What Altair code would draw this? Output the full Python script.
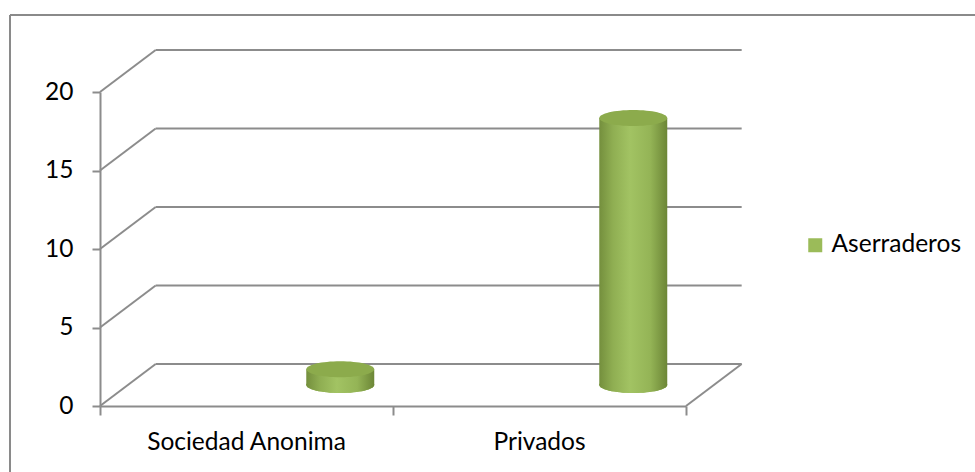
import altair as alt
import pandas as pd

# ---- data -------------------------------------------------------------
categorias = ["Sociedad Anonima", "Privados"]
aserraderos = [1, 17]
serie = "Aserraderos"
ticks_y = [0, 5, 10, 15, 20]
ticks_x = [0, 1, 2]

# ---- 3-D box geometry (data units) ------------------------------------
DX = 0.19      # depth offset along x (category units)
DY = 2.68      # depth offset along y (value units)
SHIFT = 0.32   # cylinder centre offset toward the back
HALF = 0.116   # half cylinder width (category units)

W, H = 586, 314
PAD_L, PAD_T = 100, 92
GRID = "#8c8c8c"
VERDE = "#9BBB59"
TAPA = "#8cab4c"
FONT = "Lato"
FS = 24.5

ELIPSE = "M -1 0 A 1 0.235 0 1 0 1 0 A 1 0.235 0 1 0 -1 0 Z"
ELIPSE_SIZE = 4624

n = len(categorias)

# back wall grid lines and floor edges
seg = []
for t in ticks_y:
    seg.append(dict(x=0, y=t, x2=DX, y2=t + DY))
    seg.append(dict(x=DX, y=t + DY, x2=n + DX, y2=t + DY))
seg.append(dict(x=n, y=0, x2=n + DX, y2=DY))
frame = pd.DataFrame(seg)

df = pd.DataFrame({
    "categoria": categorias,
    "valor": aserraderos,
    "i": list(range(n)),
    "serie": [serie] * n,
})

xs = alt.Scale(domain=[0, n], nice=False, zero=False)
ys = alt.Scale(domain=[ticks_y[0], ticks_y[-1]], nice=False)

x_axis = alt.Axis(values=ticks_x, labels=False, tickSize=9, tickWidth=2,
                  tickColor=GRID, domainColor=GRID, domainWidth=2,
                  grid=False, title="")
y_axis = alt.Axis(values=ticks_y, tickSize=8, tickWidth=2, tickColor=GRID,
                  domainColor=GRID, domainWidth=2, grid=False, title="",
                  labelFont=FONT, labelFontSize=FS, labelColor="#000000",
                  labelPadding=19)

grid_layer = alt.Chart(frame).mark_rule(color=GRID, strokeWidth=2).encode(
    x=alt.X("x:Q", scale=xs, axis=x_axis),
    y=alt.Y("y:Q", scale=ys, axis=y_axis),
    x2="x2:Q",
    y2="y2:Q",
)

# outer chart-area border (left and top edges)
border_left = alt.Chart(frame).mark_rule(color="#8a8a8a", strokeWidth=2).encode(
    x=alt.value(10 - PAD_L), y=alt.value(15 - PAD_T), y2=alt.value(480 - PAD_T)
)
border_top = alt.Chart(frame).mark_rule(color="#8a8a8a", strokeWidth=2).encode(
    x=alt.value(10 - PAD_L), x2=alt.value(980 - PAD_L), y=alt.value(15 - PAD_T)
)

cuerpo_grad = alt.LinearGradient(
    gradient="linear", x1=0, x2=1, y1=0, y2=0,
    stops=[
        alt.GradientStop(offset=0.0, color="#748f3d"),
        alt.GradientStop(offset=0.2, color="#8fae52"),
        alt.GradientStop(offset=0.45, color="#a2c363"),
        alt.GradientStop(offset=0.75, color="#94b456"),
        alt.GradientStop(offset=1.0, color="#6c8636"),
    ],
)

base = alt.Chart(df).transform_calculate(
    cx=f"datum.i + 0.5 + {SHIFT}",
    x0=f"datum.i + 0.5 + {SHIFT} - {HALF}",
    x1=f"datum.i + 0.5 + {SHIFT} + {HALF}",
    ybase=f"{DY / 2}",
    ytop=f"datum.valor + {DY / 2}",
)

legend = alt.Legend(orient="none", legendX=703, legendY=141, title="",
                    symbolType="square", symbolSize=196, symbolStrokeWidth=0,
                    symbolOpacity=1, labelFont=FONT, labelFontSize=FS,
                    labelColor="#000000", labelOffset=4, padding=0)

fondo = base.mark_point(shape=ELIPSE, size=ELIPSE_SIZE, filled=True,
                        opacity=1, strokeWidth=0).encode(
    x=alt.X("cx:Q", scale=xs),
    y=alt.Y("ybase:Q", scale=ys),
    color=alt.Color("serie:N", scale=alt.Scale(range=[VERDE]), legend=legend),
)

fondo_grad = base.mark_point(shape=ELIPSE, size=ELIPSE_SIZE, filled=True,
                             opacity=1, strokeWidth=0, fill=cuerpo_grad).encode(
    x=alt.X("cx:Q", scale=xs),
    y=alt.Y("ybase:Q", scale=ys),
)

cuerpo = base.mark_rect(fill=cuerpo_grad).encode(
    x=alt.X("x0:Q", scale=xs),
    x2="x1:Q",
    y=alt.Y("ybase:Q", scale=ys),
    y2="ytop:Q",
)

tapa = base.mark_point(shape=ELIPSE, size=ELIPSE_SIZE, filled=True,
                       opacity=1, strokeWidth=0, fill=TAPA).encode(
    x=alt.X("cx:Q", scale=xs),
    y=alt.Y("ytop:Q", scale=ys),
)

etiquetas = base.transform_calculate(cl="datum.i + 0.5").mark_text(
    font=FONT, fontSize=FS, color="#000000", align="center",
    baseline="alphabetic",
).encode(
    x=alt.X("cl:Q", scale=xs),
    y=alt.value(450 - PAD_T),
    text="categoria:N",
)

chart = alt.layer(
    border_left, border_top, grid_layer, fondo, fondo_grad, cuerpo, tapa, etiquetas
).properties(
    width=W, height=H,
    padding={"left": PAD_L, "top": PAD_T, "right": 975 - PAD_L - W,
             "bottom": 472 - PAD_T - H},
    autosize=alt.AutoSizeParams(type="none"),
    background="#ffffff",
).configure_view(stroke="transparent")

chart.save("out.html", embed_options={"renderer": "svg", "actions": False})
